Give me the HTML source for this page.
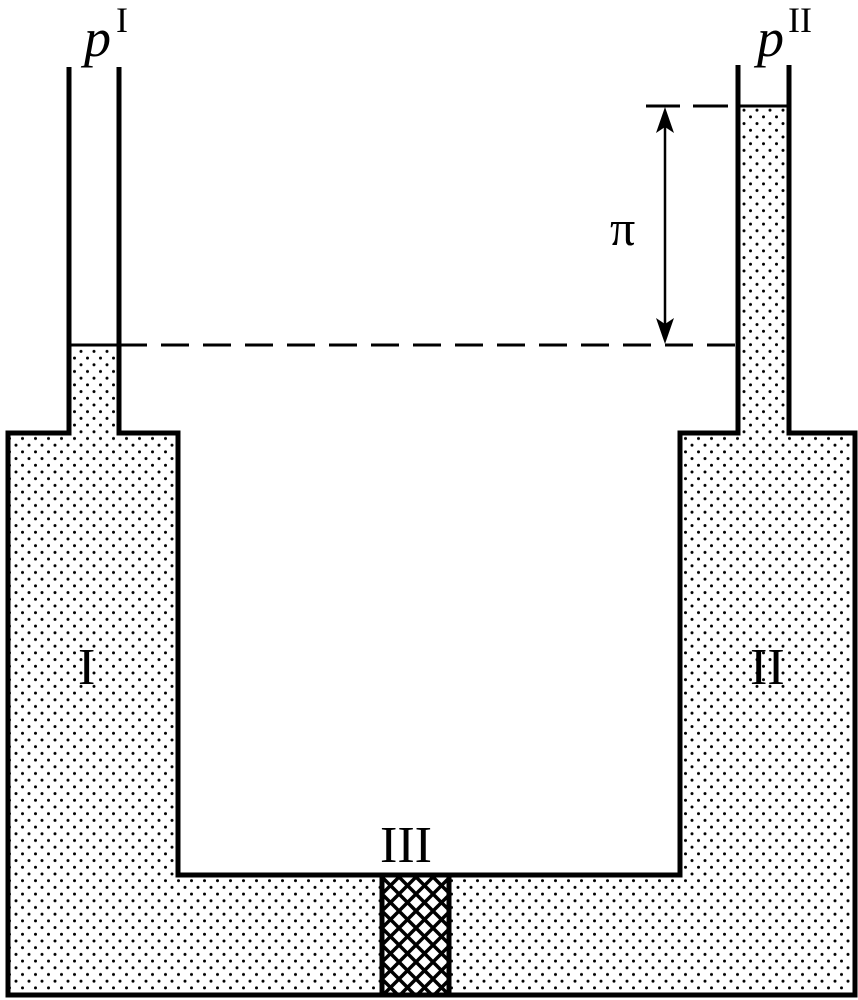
<!DOCTYPE html>
<html><head><meta charset="utf-8"><style>html,body{margin:0;padding:0;background:#fff}svg{display:block}text{font-family:"Liberation Serif",serif}</style></head>
<body>
<svg width="858" height="1000" viewBox="0 0 858 1000" xmlns="http://www.w3.org/2000/svg">
<defs>
<pattern id="dots" width="13" height="13.4" patternUnits="userSpaceOnUse">
<circle cx="3" cy="3" r="1.5" fill="#000"/>
<circle cx="9.5" cy="9.7" r="1.5" fill="#000"/>
</pattern>
<pattern id="hatch" width="17" height="17" patternUnits="userSpaceOnUse" x="382" y="877">
<path d="M-2,-2 L19,19 M-2,15 L2,19 M15,-2 L19,2 M19,-2 L-2,19 M-2,2 L2,-2 M15,19 L19,15" stroke="#000" stroke-width="3.5"/>
</pattern>
</defs>
<path d="M69,345 H119 V433 H178 V875 H680 V433 H738 V106 H789 V433 H855 V995 H8 V433 H69 Z" fill="url(#dots)"/>
<rect x="382" y="875" width="67" height="120" fill="#fff"/>
<rect x="382" y="875" width="67" height="120" fill="url(#hatch)"/>
<path d="M69,67 V433 H8 V995 H855 V433 H789 V65 M738,65 V433 H680 V875 H178 V433 H119 V67" fill="none" stroke="#000" stroke-width="5"/>
<line x1="382" y1="875" x2="382" y2="995" stroke="#000" stroke-width="5"/>
<line x1="449" y1="875" x2="449" y2="995" stroke="#000" stroke-width="5"/>
<line x1="69" y1="345" x2="119" y2="345" stroke="#000" stroke-width="3"/>
<line x1="738" y1="106" x2="789" y2="106" stroke="#000" stroke-width="3"/>
<line x1="119" y1="345" x2="735" y2="345" stroke="#000" stroke-width="3" stroke-dasharray="28,14"/>
<line x1="646" y1="106" x2="680" y2="106" stroke="#000" stroke-width="3"/>
<line x1="693" y1="106" x2="728" y2="106" stroke="#000" stroke-width="3"/>
<line x1="665" y1="125" x2="665" y2="325" stroke="#000" stroke-width="2.5"/>
<path d="M665,107 L656,133 L665,127 L674,133 Z" fill="#000"/>
<path d="M665,344 L656,318 L665,324 L674,318 Z" fill="#000"/>
<g fill="#000">
<text x="84" y="56" font-size="54" font-style="italic">p</text>
<text x="116" y="32" font-size="36">I</text>
<text x="757" y="56" font-size="54" font-style="italic">p</text>
<text x="788" y="32" font-size="36">II</text>
<text x="610" y="245" font-size="50">π</text>
<text x="78" y="684" font-size="52">I</text>
<text x="750" y="684" font-size="52">II</text>
<text x="380" y="862" font-size="52">III</text>
</g>
</svg>
</body></html>
